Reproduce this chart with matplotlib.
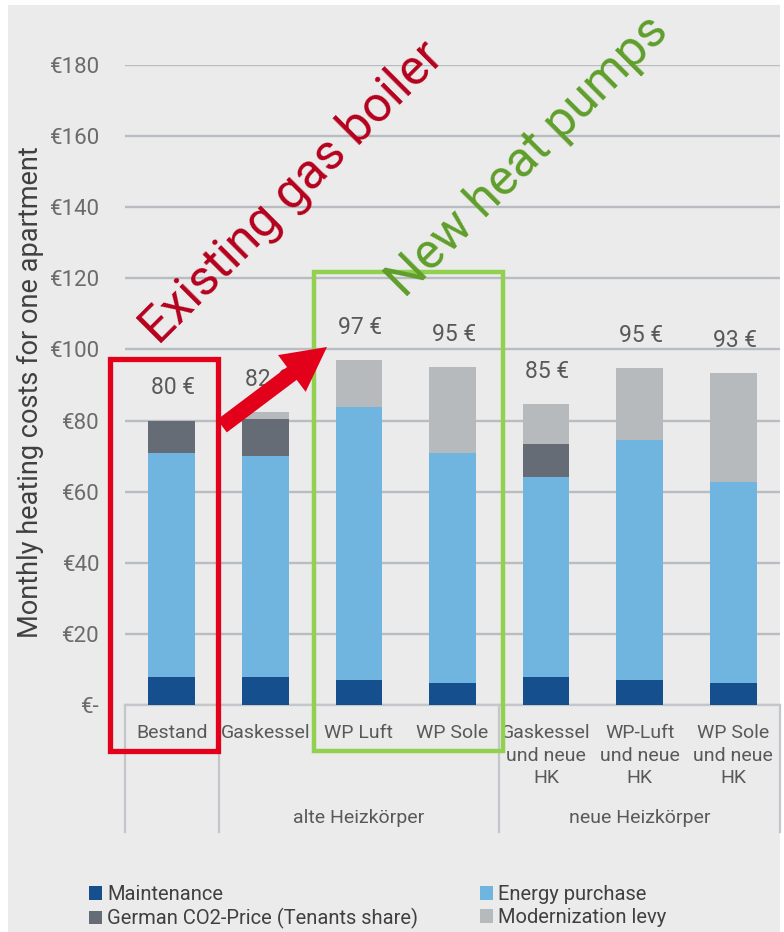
import matplotlib
matplotlib.use("Agg")
import matplotlib.pyplot as plt
import matplotlib.transforms as mtransforms
from matplotlib.patches import Rectangle, Polygon
import numpy as np

plt.rcParams['font.family'] = ['Roboto', 'DejaVu Sans']

# ---- data -------------------------------------------------------------
categories = ["Bestand", "Gaskessel", "WP Luft", "WP Sole",
              "Gaskessel\nund neue\nHK", "WP-Luft\nund neue\nHK", "WP Sole\nund neue\nHK"]
groups = ["", "alte Heizkörper", "neue Heizkörper"]
group_bounds = [(-0.5, 0.5), (0.5, 3.5), (3.5, 6.5)]

maintenance = [8.0, 8.0, 7.0, 6.3, 8.0, 7.0, 6.3]
energy      = [63.0, 62.0, 76.9, 64.7, 56.1, 67.6, 56.4]
co2_price   = [9.0, 10.3, 0.0, 0.0, 9.4, 0.0, 0.0]
levy        = [0.0, 2.0, 13.1, 24.0, 11.1, 20.1, 30.6]
total_labels = ["80 €", "82 €", "97 €", "95 €", "85 €", "95 €", "93 €"]

series_names = ["Maintenance", "Energy purchase",
                "German CO2-Price (Tenants share)", "Modernization levy"]
series_colors = ["#154f8e", "#6fb5e0", "#656c76", "#b6babd"]

yticks = [0, 20, 40, 60, 80, 100, 120, 140, 160, 180]
ytick_labels = ["€-", "€20", "€40", "€60", "€80", "€100", "€120", "€140", "€160", "€180"]

# ---- figure -----------------------------------------------------------
W, H = 784, 932
fig = plt.figure(figsize=(W / 100, H / 100), dpi=100, facecolor="white")
# pixel (from top-left) -> figure coordinates
pix = mtransforms.Affine2D().scale(1 / W, -1 / H).translate(0, 1) + fig.transFigure

fig.add_artist(Rectangle((8, 5), 772, 927, transform=pix, facecolor="#ebebeb",
                         edgecolor="none", zorder=-5))

ax_left, ax_right, ax_top, ax_bottom = 125, 780, 65, 705
ax = fig.add_axes([ax_left / W, 1 - ax_bottom / H, (ax_right - ax_left) / W,
                   (ax_bottom - ax_top) / H])
ax.set_facecolor("none")
ax.set_xlim(-0.5, len(categories) - 0.5)
ax.set_ylim(0, 180)

x = np.arange(len(categories))
stack = [maintenance, energy, co2_price, levy]
bottom = np.zeros(len(categories))
handles = []
for vals, name, col in zip(stack, series_names, series_colors):
    h = ax.bar(x, vals, width=0.5, bottom=bottom, color=col, label=name, zorder=3)
    handles.append(h)
    bottom = bottom + np.array(vals)

totals = bottom
for xi, tot, lab in zip(x, totals, total_labels):
    ax.annotate(lab, (xi, tot), xytext=(1, 23.8), textcoords="offset points",
                ha="center", va="center", fontsize=16.5, color="#595959",
                annotation_clip=False, zorder=4)

# grid & axes
ax.set_yticks(yticks)
ax.set_yticklabels(ytick_labels)
ax.tick_params(axis="y", length=0, pad=18, labelsize=16, labelcolor="#6b6b6b")
ax.yaxis.grid(True, color="#b9bcc0", linewidth=1.7, zorder=0)
ax.set_axisbelow(True)
for s in ["top", "right", "left"]:
    ax.spines[s].set_visible(False)
ax.spines["bottom"].set_color("#c3c6ca")
ax.spines["bottom"].set_linewidth(1.6)

ax.set_xticks(x)
ax.set_xticklabels(categories, linespacing=1.3)
ax.tick_params(axis="x", length=0, pad=14, labelsize=14, labelcolor="#595959")

# category group separators and group names
xt = ax.get_xaxis_transform()
sep_bottom = (ax_bottom - 832) / (ax_bottom - ax_top)
for b in [-0.5, 0.5, 3.5, 6.5]:
    ax.plot([b, b], [0, sep_bottom], transform=xt, color="#c3c6ca", lw=1.6,
            clip_on=False)
grp_y = (ax_bottom - 818) / (ax_bottom - ax_top)
for name, (a, b) in zip(groups, group_bounds):
    if name:
        ax.text((a + b) / 2, grp_y, name, transform=xt, ha="center", va="center",
                fontsize=14, color="#595959")

fig.text(30 / W, 1 - 392 / H, "Monthly heating costs for one apartment",
         rotation=90, ha="center", va="center", fontsize=19.5, color="#404040")

# legend
leg_kw = dict(frameon=False, fontsize=14.5, handlelength=0.65, handleheight=0.65,
              handletextpad=0.25, labelspacing=0.2, borderpad=0, labelcolor="#404040")
leg1 = fig.legend([handles[0], handles[2]], [series_names[0], series_names[2]],
                  loc="upper left", bbox_to_anchor=(79 / W, 1 - 875 / H), **leg_kw)
leg2 = fig.legend([handles[1], handles[3]], [series_names[1], series_names[3]],
                  loc="upper left", bbox_to_anchor=(470 / W, 1 - 875 / H), **leg_kw)

# highlight boxes
fig.add_artist(Rectangle((110, 359), 108, 392, transform=pix, fill=False,
                         edgecolor="#e2001a", linewidth=3.8, zorder=10))
fig.add_artist(Rectangle((314, 272), 189, 479, transform=pix, fill=False,
                         edgecolor="#92d050", linewidth=3.2, zorder=10))

# arrow from the existing boiler to the heat pumps
tail = np.array([222.0, 426.0])
tip = np.array([327.0, 347.0])
d = tip - tail
L = np.hypot(*d)
u = d / L
n = np.array([-u[1], u[0]])
body_w, head_w, head_l = 16.0, 46.0, 44.0
base = tip - u * head_l
pts = [tail + n * body_w / 2, base + n * body_w / 2, base + n * head_w / 2, tip,
       base - n * head_w / 2, base - n * body_w / 2, tail - n * body_w / 2]
fig.add_artist(Polygon(pts, closed=True, transform=pix, facecolor="#e2001a",
                       edgecolor="none", zorder=11))

# rotated call-outs
fig.text(292 / W, 1 - 192 / H, "Existing gas boiler", rotation=45,
         rotation_mode="anchor", ha="center", va="center", fontsize=36,
         color="#b5001c", zorder=12)
fig.text(528 / W, 1 - 156 / H, "New heat pumps", rotation=45,
         rotation_mode="anchor", ha="center", va="center", fontsize=36,
         color="#5f9e2b", zorder=12)

fig.savefig("out.png", dpi=100, facecolor="white")
